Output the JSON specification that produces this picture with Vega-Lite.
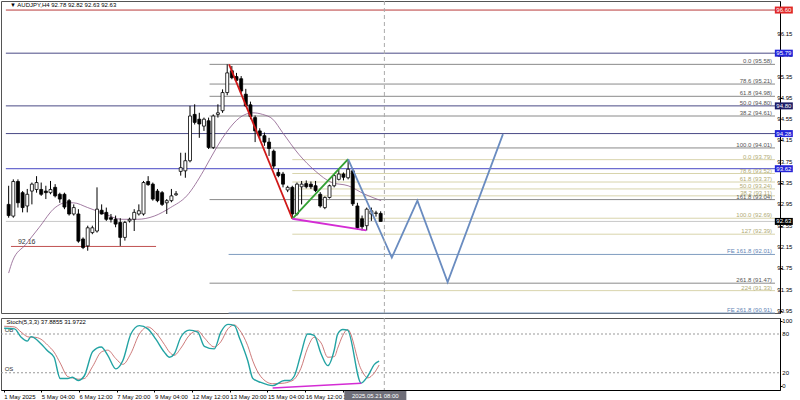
{
  "$schema": "https://vega.github.io/schema/vega-lite/v6.json",
  "padding": 0,
  "spacing": 2,
  "background": "white",
  "config": {
    "view": {"stroke": "#555", "strokeWidth": 1},
    "font": "Liberation Sans",
    "text": {"font": "Liberation Sans"},
    "axis": {"labelOverlap": false, "labelFontSize": 6, "labelFont": "Liberation Sans", "labelColor": "#000", "tickSize": 2, "tickColor": "#000", "labelPadding": 1, "domainColor": "#000", "grid": false, "labelFlush": false}
  },
  "datasets": {
    "candles": [
      {"i":0,"o":92.95,"h":93.30,"l":92.70,"c":92.74},
      {"i":1,"o":92.73,"h":93.42,"l":92.70,"c":93.38},
      {"i":2,"o":93.38,"h":93.42,"l":92.89,"c":92.98},
      {"i":3,"o":93.17,"h":93.20,"l":92.80,"c":92.89},
      {"i":4,"o":92.92,"h":93.24,"l":92.80,"c":93.14},
      {"i":5,"o":93.20,"h":93.36,"l":92.95,"c":93.33},
      {"i":6,"o":93.23,"h":93.48,"l":93.17,"c":93.36},
      {"i":7,"o":93.23,"h":93.36,"l":93.11,"c":93.14},
      {"i":8,"o":93.20,"h":93.30,"l":93.05,"c":93.17},
      {"i":9,"o":93.17,"h":93.39,"l":93.14,"c":93.23},
      {"i":10,"o":93.27,"h":93.33,"l":93.08,"c":93.11},
      {"i":11,"o":93.14,"h":93.17,"l":92.98,"c":93.05},
      {"i":12,"o":93.14,"h":93.17,"l":92.86,"c":92.90},
      {"i":13,"o":93.02,"h":93.05,"l":92.74,"c":92.77},
      {"i":14,"o":92.77,"h":92.95,"l":92.74,"c":92.89},
      {"i":15,"o":92.77,"h":92.86,"l":92.23,"c":92.26},
      {"i":16,"o":92.30,"h":92.33,"l":92.11,"c":92.14},
      {"i":17,"o":92.17,"h":92.55,"l":92.08,"c":92.51},
      {"i":18,"o":92.42,"h":92.55,"l":92.39,"c":92.51},
      {"i":19,"o":92.45,"h":93.27,"l":92.42,"c":92.86},
      {"i":20,"o":92.84,"h":92.95,"l":92.76,"c":92.77},
      {"i":21,"o":92.80,"h":92.89,"l":92.64,"c":92.67},
      {"i":22,"o":92.70,"h":92.77,"l":92.61,"c":92.67},
      {"i":23,"o":92.67,"h":92.74,"l":92.52,"c":92.58},
      {"i":24,"o":92.61,"h":92.69,"l":92.17,"c":92.33},
      {"i":25,"o":92.33,"h":92.64,"l":92.27,"c":92.61},
      {"i":26,"o":92.64,"h":92.70,"l":92.61,"c":92.67},
      {"i":27,"o":92.67,"h":92.86,"l":92.45,"c":92.80},
      {"i":28,"o":92.77,"h":92.95,"l":92.74,"c":92.83},
      {"i":29,"o":92.77,"h":93.39,"l":92.74,"c":93.36},
      {"i":30,"o":93.38,"h":93.48,"l":93.30,"c":93.32},
      {"i":31,"o":93.33,"h":93.36,"l":93.02,"c":93.05},
      {"i":32,"o":93.20,"h":93.24,"l":92.99,"c":93.02},
      {"i":33,"o":93.17,"h":93.20,"l":92.92,"c":92.95},
      {"i":34,"o":92.98,"h":93.05,"l":92.77,"c":93.02},
      {"i":35,"o":93.02,"h":93.24,"l":92.99,"c":93.11},
      {"i":36,"o":93.13,"h":93.20,"l":93.11,"c":93.15},
      {"i":37,"o":93.57,"h":93.92,"l":93.49,"c":93.64},
      {"i":38,"o":93.58,"h":93.92,"l":93.45,"c":93.77},
      {"i":39,"o":93.77,"h":94.80,"l":93.74,"c":94.61},
      {"i":40,"o":94.64,"h":94.83,"l":94.45,"c":94.49},
      {"i":41,"o":94.55,"h":94.67,"l":94.20,"c":94.46},
      {"i":42,"o":94.42,"h":94.58,"l":94.33,"c":94.55},
      {"i":43,"o":94.52,"h":94.58,"l":93.99,"c":94.02},
      {"i":44,"o":94.02,"h":94.64,"l":93.99,"c":94.61},
      {"i":45,"o":94.64,"h":94.83,"l":94.58,"c":94.67},
      {"i":46,"o":94.71,"h":95.11,"l":94.67,"c":95.05},
      {"i":47,"o":95.05,"h":95.58,"l":95.00,"c":95.42},
      {"i":48,"o":95.46,"h":95.55,"l":95.30,"c":95.33},
      {"i":49,"o":95.35,"h":95.42,"l":95.22,"c":95.28},
      {"i":50,"o":95.31,"h":95.36,"l":95.04,"c":95.08},
      {"i":51,"o":95.02,"h":95.12,"l":94.78,"c":94.80},
      {"i":52,"o":94.82,"h":94.88,"l":94.55,"c":94.60},
      {"i":53,"o":94.58,"h":94.62,"l":94.12,"c":94.33},
      {"i":54,"o":94.33,"h":94.38,"l":94.18,"c":94.24},
      {"i":55,"o":94.24,"h":94.30,"l":94.05,"c":94.12},
      {"i":56,"o":94.12,"h":94.20,"l":93.86,"c":94.00},
      {"i":57,"o":93.95,"h":93.98,"l":93.62,"c":93.67},
      {"i":58,"o":93.55,"h":93.62,"l":93.46,"c":93.49},
      {"i":59,"o":93.52,"h":93.56,"l":93.27,"c":93.33},
      {"i":60,"o":93.22,"h":93.30,"l":93.18,"c":93.27},
      {"i":61,"o":93.27,"h":93.30,"l":92.68,"c":92.77},
      {"i":62,"o":92.77,"h":93.36,"l":92.74,"c":93.33},
      {"i":63,"o":93.28,"h":93.39,"l":92.95,"c":93.33},
      {"i":64,"o":93.34,"h":93.40,"l":93.25,"c":93.28},
      {"i":65,"o":93.33,"h":93.38,"l":93.24,"c":93.28},
      {"i":66,"o":93.30,"h":93.39,"l":93.18,"c":93.21},
      {"i":67,"o":93.14,"h":93.18,"l":92.89,"c":92.92},
      {"i":68,"o":92.89,"h":93.10,"l":92.86,"c":93.08},
      {"i":69,"o":93.08,"h":93.32,"l":93.06,"c":93.30},
      {"i":70,"o":93.30,"h":93.52,"l":93.27,"c":93.49},
      {"i":71,"o":93.42,"h":93.60,"l":93.40,"c":93.52},
      {"i":72,"o":93.52,"h":93.55,"l":93.40,"c":93.46},
      {"i":73,"o":93.45,"h":93.80,"l":93.42,"c":93.61},
      {"i":74,"o":93.58,"h":93.62,"l":92.92,"c":92.96},
      {"i":75,"o":92.92,"h":92.98,"l":92.48,"c":92.51},
      {"i":76,"o":92.68,"h":92.74,"l":92.46,"c":92.53},
      {"i":77,"o":92.55,"h":92.89,"l":92.46,"c":92.86},
      {"i":78,"o":92.77,"h":92.89,"l":92.64,"c":92.83},
      {"i":79,"o":92.78,"h":92.83,"l":92.72,"c":92.79},
      {"i":80,"o":92.78,"h":92.82,"l":92.63,"c":92.63}
    ],
    "ma": [
      {"i":0,"p":91.66},{"i":0.85,"p":91.89},{"i":3.7,"p":92.20},{"i":6.5,"p":92.51},
      {"i":10.0,"p":92.89},{"i":12.2,"p":92.98},{"i":13.9,"p":92.98},{"i":17.0,"p":92.89},
      {"i":20.7,"p":92.77},{"i":24.2,"p":92.67},{"i":27.7,"p":92.67},{"i":31.3,"p":92.73},
      {"i":34.8,"p":92.89},{"i":38.3,"p":93.11},{"i":41.9,"p":93.58},{"i":43.3,"p":93.80},
      {"i":46.8,"p":94.30},{"i":49.7,"p":94.58},{"i":52.5,"p":94.67},{"i":54.6,"p":94.64},
      {"i":56.8,"p":94.55},{"i":58.9,"p":94.30},{"i":62.4,"p":93.89},{"i":65.9,"p":93.58},
      {"i":69.5,"p":93.36},{"i":73.0,"p":93.30},{"i":76.6,"p":93.14},{"i":80.1,"p":93.02}
    ],
    "paths": [
      {"path":"red","n":0,"i":47.4,"p":95.58},{"path":"red","n":1,"i":61.0,"p":92.68},
      {"path":"green","n":0,"i":61.0,"p":92.68},{"path":"green","n":1,"i":73.0,"p":93.80},
      {"path":"magenta","n":0,"i":61.0,"p":92.68},{"path":"magenta","n":1,"i":76.9,"p":92.46},
      {"path":"blue","n":0,"i":73.0,"p":93.80},{"path":"blue","n":1,"i":82.4,"p":91.95},
      {"path":"blue","n":2,"i":87.9,"p":93.02},{"path":"blue","n":3,"i":94.4,"p":91.49},
      {"path":"blue","n":4,"i":106.3,"p":94.27}
    ],
    "hlines": [
      {"price":96.60,"from":-0.6,"to":164.8,"kind":"red"},
      {"price":95.79,"from":-0.6,"to":164.8,"kind":"navy"},
      {"price":94.80,"from":-0.6,"to":164.8,"kind":"navy"},
      {"price":94.28,"from":-0.6,"to":164.8,"kind":"navy"},
      {"price":93.62,"from":-0.6,"to":164.8,"kind":"blue"},
      {"price":92.63,"from":-0.6,"to":164.8,"kind":"bid"},
      {"price":92.16,"from":0.5,"to":31.7,"kind":"support"},
      {"price":95.58,"from":43.2,"to":164.8,"kind":"fib1"},
      {"price":95.21,"from":43.2,"to":164.8,"kind":"fib1"},
      {"price":94.98,"from":43.2,"to":164.8,"kind":"fib1"},
      {"price":94.61,"from":43.2,"to":164.8,"kind":"fib1"},
      {"price":94.01,"from":43.2,"to":164.8,"kind":"fib1"},
      {"price":93.04,"from":43.2,"to":164.8,"kind":"fib1"},
      {"price":91.47,"from":43.2,"to":164.8,"kind":"fib1"},
      {"price":93.79,"from":61.0,"to":164.8,"kind":"fib2"},
      {"price":93.53,"from":61.0,"to":164.8,"kind":"fib2"},
      {"price":93.37,"from":61.0,"to":164.8,"kind":"fib2"},
      {"price":93.24,"from":61.0,"to":164.8,"kind":"fib2"},
      {"price":93.11,"from":61.0,"to":164.8,"kind":"fib2"},
      {"price":92.69,"from":61.0,"to":164.8,"kind":"fib2"},
      {"price":92.39,"from":61.0,"to":164.8,"kind":"fib2"},
      {"price":91.33,"from":61.0,"to":164.8,"kind":"fib2"},
      {"price":92.01,"from":47.3,"to":164.8,"kind":"fe"},
      {"price":90.91,"from":47.3,"to":164.8,"kind":"fe"}
    ],
    "fiblabels": [
      {"price":95.58,"label":"0.0 (95.58)","kind":"fib1"},
      {"price":95.21,"label":"78.6 (95.21)","kind":"fib1"},
      {"price":94.98,"label":"61.8 (94.98)","kind":"fib1"},
      {"price":94.80,"label":"50.0 (94.80)","kind":"fib1"},
      {"price":94.61,"label":"38.2 (94.61)","kind":"fib1"},
      {"price":94.01,"label":"100.0 (94.01)","kind":"fib1"},
      {"price":93.79,"label":"0.0 (93.79)","kind":"fib2"},
      {"price":93.53,"label":"78.6 (93.52)","kind":"fib2"},
      {"price":93.37,"label":"61.8 (93.37)","kind":"fib2"},
      {"price":93.24,"label":"50.0 (93.24)","kind":"fib2"},
      {"price":93.11,"label":"38.2 (93.11)","kind":"fib2"},
      {"price":93.04,"label":"161.8 (93.04)","kind":"fib1"},
      {"price":92.69,"label":"100.0 (92.69)","kind":"fib2"},
      {"price":92.39,"label":"127 (92.39)","kind":"fib2"},
      {"price":92.01,"label":"FE 161.8 (92.01)","kind":"fe"},
      {"price":91.47,"label":"261.8 (91.47)","kind":"fib1"},
      {"price":91.33,"label":"224 (91.33)","kind":"fib2"},
      {"price":90.91,"label":"FE 261.8 (90.91)","kind":"fe"}
    ],
    "pricetags": [
      {"price":96.60,"label":"96.60","kind":"red"},
      {"price":95.79,"label":"95.79","kind":"blue"},
      {"price":94.80,"label":"94.80","kind":"navy"},
      {"price":94.28,"label":"94.28","kind":"blue"},
      {"price":93.62,"label":"93.62","kind":"blue"},
      {"price":92.63,"label":"92.63","kind":"black"}
    ],
    "priceticks": [
      {"v":90.95,"label":"90.95"},{"v":91.35,"label":"91.35"},{"v":91.75,"label":"91.75"},
      {"v":92.15,"label":"92.15"},{"v":92.55,"label":"92.55"},{"v":92.95,"label":"92.95"},
      {"v":93.35,"label":"93.35"},{"v":93.75,"label":"93.75"},{"v":94.15,"label":"94.15"},
      {"v":94.55,"label":"94.55"},{"v":94.95,"label":"94.95"},{"v":95.35,"label":"95.35"},
      {"v":95.75,"label":"95.75"},{"v":96.15,"label":"96.15"}
    ],
    "stochticks": [
      {"v":0,"label":"0"},{"v":20,"label":"20"},{"v":80,"label":"80"},{"v":100,"label":"100"}
    ],
    "stoch": [
      {"i":0.1,"m":89,"s":92},{"i":2.3,"m":88,"s":91},{"i":3.7,"m":75,"s":83},{"i":5.0,"m":69,"s":76},
      {"i":5.8,"m":76,"s":75},{"i":6.5,"m":74,"s":75},{"i":7.9,"m":65,"s":72},{"i":9.3,"m":54,"s":63},
      {"i":10.7,"m":44,"s":52},{"i":12.0,"m":11,"s":35},{"i":13.6,"m":11,"s":14},{"i":14.6,"m":13,"s":12},
      {"i":15.8,"m":8,"s":10},{"i":17.1,"m":15,"s":11},{"i":18.9,"m":53,"s":30},{"i":20.7,"m":60,"s":52},
      {"i":22.1,"m":47,"s":55},{"i":23.8,"m":26,"s":42},{"i":25.3,"m":39,"s":33},{"i":27.0,"m":80,"s":50},
      {"i":28.8,"m":93,"s":80},{"i":30.6,"m":88,"s":91},{"i":32.3,"m":72,"s":82},{"i":34.1,"m":52,"s":64},
      {"i":35.2,"m":44,"s":52},{"i":36.2,"m":49,"s":47},{"i":37.6,"m":75,"s":58},{"i":39.4,"m":86,"s":78},
      {"i":41.2,"m":83,"s":85},{"i":42.6,"m":61,"s":74},{"i":44.7,"m":57,"s":60},{"i":46.1,"m":83,"s":68},
      {"i":47.6,"m":95,"s":88},{"i":49.0,"m":93,"s":94},{"i":50.0,"m":75,"s":87},{"i":51.8,"m":39,"s":62},
      {"i":52.9,"m":11,"s":38},{"i":54.6,"m":5,"s":14},{"i":57.1,"m":0,"s":3},{"i":59.6,"m":8,"s":4},
      {"i":60.6,"m":8,"s":6},{"i":61.7,"m":15,"s":10},{"i":63.1,"m":49,"s":27},{"i":64.5,"m":80,"s":58},
      {"i":65.9,"m":78,"s":75},{"i":67.4,"m":49,"s":66},{"i":68.8,"m":31,"s":44},{"i":70.2,"m":56,"s":45},
      {"i":70.9,"m":80,"s":58},{"i":72.0,"m":87,"s":78},{"i":73.0,"m":86,"s":87},{"i":75.9,"m":4,"s":25},
      {"i":77.3,"m":15,"s":12},{"i":78.7,"m":33,"s":20},{"i":79.7,"m":38,"s":32}
    ],
    "stochdiv": [
      {"n":0,"i":57.1,"v":-3.5},{"n":1,"i":75.9,"v":3.8}
    ],
    "stochlevels": [
      {"v":80,"label":"OB"},{"v":20,"label":"OS"}
    ]
  },
  "vconcat": [
    {
      "width": 779,
      "height": 312,
      "resolve": {"scale": {"color": "independent"}},
      "layer": [
        {
          "data": {"name": "hlines"},
          "mark": {"type": "rule", "strokeWidth": 1},
          "encoding": {
            "x": {"field": "from", "type": "quantitative", "scale": {"domain": [-0.57, 164.8], "nice": false, "zero": false}, "title": null,
                  "axis": {"labels": false, "ticks": false, "domain": false, "grid": false, "title": null}},
            "x2": {"field": "to"},
            "y": {"field": "price", "type": "quantitative", "scale": {"domain": [90.91, 96.77], "nice": false, "zero": false}, "title": null,
                  "axis": {"orient": "right", "values": [90.95,91.35,91.75,92.15,92.55,92.95,93.35,93.75,94.15,94.55,94.95,95.35,95.75,96.15], "labels": false, "title": null}},
            "color": {"field": "kind", "type": "nominal", "legend": null,
                      "scale": {"domain": ["red","navy","blue","bid","support","fib1","fib2","fe"], "range": ["#b83a3a","#4a4a86","#4848c4","#c8c8c8","#c05050","#8a8a8a","#d8d4ac","#7f9cc0"]}}
          }
        },
        {
          "data": {"name": "priceticks"},
          "mark": {"type": "text", "align": "left", "baseline": "middle", "fontSize": 6, "color": "#000"},
          "encoding": {
            "x": {"datum": 165.3},
            "y": {"field": "v", "type": "quantitative", "title": null},
            "text": {"field": "label"}
          }
        },
        {
          "data": {"name": "fiblabels"},
          "mark": {"type": "text", "align": "right", "baseline": "bottom", "dx": -2, "dy": 0, "fontSize": 6},
          "encoding": {
            "x": {"datum": 164.6},
            "y": {"field": "price", "type": "quantitative", "title": null},
            "text": {"field": "label"},
            "color": {"field": "kind", "type": "nominal", "legend": null,
                      "scale": {"domain": ["fib1","fib2","fe"], "range": ["#555555","#b0aa74","#5f85b5"]}}
          }
        },
        {
          "data": {"values": [{"label": "92.16", "price": 92.16}]},
          "mark": {"type": "text", "align": "left", "baseline": "bottom", "dy": -1, "fontSize": 7, "color": "#333"},
          "encoding": {
            "x": {"datum": 2},
            "y": {"field": "price", "type": "quantitative", "title": null},
            "text": {"field": "label"}
          }
        },
        {
          "data": {"name": "ma"},
          "mark": {"type": "line", "color": "#8a5a8a", "strokeWidth": 0.8, "interpolate": "monotone"},
          "encoding": {
            "x": {"field": "i", "type": "quantitative", "title": null},
            "y": {"field": "p", "type": "quantitative", "title": null}
          }
        },
        {
          "data": {"name": "candles"},
          "mark": {"type": "rule", "color": "#000", "strokeWidth": 1},
          "encoding": {
            "x": {"field": "i", "type": "quantitative", "title": null},
            "y": {"field": "l", "type": "quantitative", "title": null},
            "y2": {"field": "h"}
          }
        },
        {
          "data": {"name": "candles"},
          "mark": {"type": "bar", "size": 3, "stroke": "#000", "strokeWidth": 0.8},
          "encoding": {
            "x": {"field": "i", "type": "quantitative", "title": null},
            "y": {"field": "o", "type": "quantitative", "title": null},
            "y2": {"field": "c"},
            "fill": {"condition": {"test": "datum.c >= datum.o", "value": "#ffffff"}, "value": "#000000"}
          }
        },
        {
          "data": {"name": "paths"},
          "mark": {"type": "line", "strokeWidth": 1.8},
          "encoding": {
            "x": {"field": "i", "type": "quantitative", "title": null},
            "y": {"field": "p", "type": "quantitative", "title": null},
            "order": {"field": "n"},
            "detail": {"field": "path"},
            "color": {"field": "path", "type": "nominal", "legend": null,
                      "scale": {"domain": ["red","green","magenta","blue"], "range": ["#d01818","#32a032","#d42cd4","#6a8cc0"]}},
            "strokeWidth": {"field": "path", "type": "nominal", "legend": null,
                      "scale": {"domain": ["red","green","magenta","blue"], "range": [2.2, 2, 1.3, 1.6]}}
          }
        },
        {
          "data": {"values": [{"t": 80.8}]},
          "mark": {"type": "rule", "color": "#aaaaaa", "strokeDash": [4, 3], "strokeWidth": 1},
          "encoding": {"x": {"field": "t", "type": "quantitative", "title": null}}
        },
        {
          "data": {"name": "pricetags"},
          "mark": {"type": "tick", "orient": "horizontal", "size": 18, "thickness": 7, "opacity": 1},
          "encoding": {
            "x": {"datum": 166.7},
            "y": {"field": "price", "type": "quantitative", "title": null},
            "color": {"field": "kind", "type": "nominal", "legend": null,
                      "scale": {"domain": ["red","blue","navy","black"], "range": ["#e02828","#2424d8","#1c1c66","#000000"]}}
          }
        },
        {
          "data": {"name": "pricetags"},
          "mark": {"type": "text", "align": "center", "baseline": "middle", "fontSize": 6, "color": "#ffffff"},
          "encoding": {
            "x": {"datum": 166.7},
            "y": {"field": "price", "type": "quantitative", "title": null},
            "text": {"field": "label"}
          }
        },
        {
          "data": {"values": [{"label": "▼ AUDJPY,H4  92.78 92.82 92.63 92.63"}]},
          "mark": {"type": "text", "align": "left", "baseline": "middle", "fontSize": 6, "color": "#000"},
          "encoding": {
            "x": {"datum": 0.3},
            "y": {"datum": 96.69},
            "text": {"field": "label"}
          }
        }
      ]
    },
    {
      "width": 779,
      "height": 72,
      "resolve": {"scale": {"color": "independent"}},
      "layer": [
        {
          "data": {"name": "stochlevels"},
          "mark": {"type": "rule", "color": "#999999", "strokeDash": [2, 2], "strokeWidth": 1},
          "encoding": {
            "x": {"datum": -0.57},
            "x2": {"datum": 164.8},
            "y": {"field": "v", "type": "quantitative", "scale": {"domain": [-6.7, 104.8], "nice": false, "zero": false}, "title": null,
                  "axis": {"orient": "right", "values": [0, 20, 80, 100], "labels": false, "title": null}}
          }
        },
        {
          "data": {"name": "stochticks"},
          "mark": {"type": "text", "align": "left", "baseline": "middle", "fontSize": 6, "color": "#000"},
          "encoding": {
            "x": {"datum": 165.3},
            "y": {"field": "v", "type": "quantitative", "title": null},
            "text": {"field": "label"}
          }
        },
        {
          "data": {"name": "stochlevels"},
          "mark": {"type": "text", "align": "left", "baseline": "bottom", "dy": -1, "fontSize": 6, "color": "#333"},
          "encoding": {
            "x": {"datum": 0.2},
            "y": {"field": "v", "type": "quantitative", "title": null},
            "text": {"field": "label"}
          }
        },
        {
          "data": {"name": "stoch"},
          "mark": {"type": "line", "color": "#c05858", "strokeWidth": 0.8, "interpolate": "monotone"},
          "encoding": {
            "x": {"field": "i", "type": "quantitative", "scale": {"domain": [-0.57, 164.8], "nice": false, "zero": false}, "title": null,
                  "axis": {"orient": "bottom", "values": [0, 8, 16, 24, 32, 40, 48, 56, 64, 72],
                           "labelExpr": "['1 May 2025','5 May 04:00','6 May 12:00','7 May 20:00','9 May 04:00','12 May 12:00','13 May 20:00','15 May 04:00','16 May 12:00','19 May 20:00'][round(datum.value/8)]",
                           "labelAlign": "left", "labelOverlap": false, "title": null}},
            "y": {"field": "s", "type": "quantitative", "title": null}
          }
        },
        {
          "data": {"name": "stoch"},
          "mark": {"type": "line", "color": "#23a3a3", "strokeWidth": 1.4, "interpolate": "monotone"},
          "encoding": {
            "x": {"field": "i", "type": "quantitative", "title": null},
            "y": {"field": "m", "type": "quantitative", "title": null}
          }
        },
        {
          "data": {"name": "stochdiv"},
          "mark": {"type": "line", "color": "#d42cd4", "strokeWidth": 1.4},
          "encoding": {
            "x": {"field": "i", "type": "quantitative", "title": null},
            "y": {"field": "v", "type": "quantitative", "title": null},
            "order": {"field": "n"}
          }
        },
        {
          "data": {"values": [{"t": 80.8}]},
          "mark": {"type": "rule", "color": "#aaaaaa", "strokeDash": [4, 3], "strokeWidth": 1},
          "encoding": {"x": {"field": "t", "type": "quantitative", "title": null}}
        },
        {
          "data": {"values": [{"label": "Stoch(5,3,3) 37.8855 31.9722"}]},
          "mark": {"type": "text", "align": "left", "baseline": "middle", "fontSize": 6, "color": "#000"},
          "encoding": {
            "x": {"datum": 0.6},
            "y": {"datum": 98.5},
            "text": {"field": "label"}
          }
        },
        {
          "data": {"values": [{"label": "2025.05.21 08:00"}]},
          "mark": {"type": "tick", "orient": "horizontal", "size": 62, "thickness": 10, "opacity": 1, "color": "#6e6e78"},
          "encoding": {
            "x": {"datum": 78.9},
            "y": {"datum": -16}
          }
        },
        {
          "data": {"values": [{"label": "2025.05.21 08:00"}]},
          "mark": {"type": "text", "align": "center", "baseline": "middle", "fontSize": 6, "color": "#ffffff"},
          "encoding": {
            "x": {"datum": 78.9},
            "y": {"datum": -16},
            "text": {"field": "label"}
          }
        }
      ]
    }
  ]
}
